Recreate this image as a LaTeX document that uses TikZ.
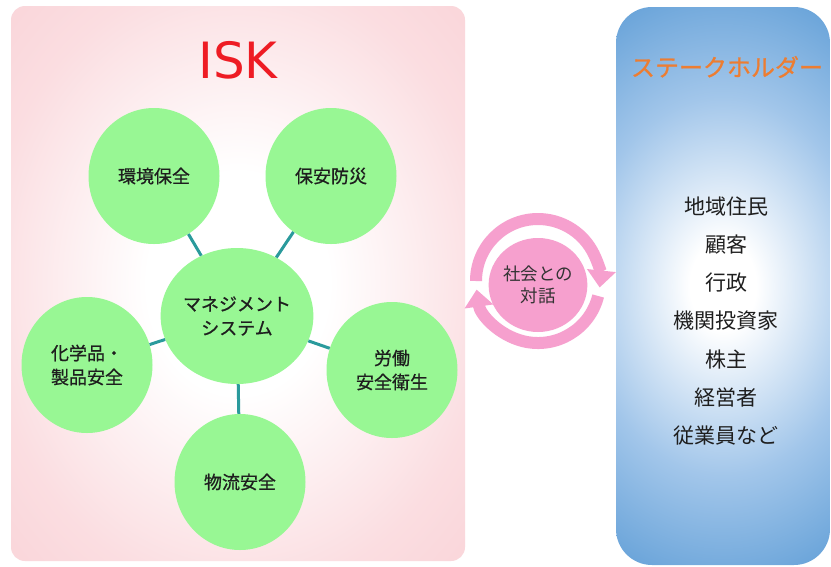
\documentclass[tikz,border=0pt]{standalone}
\usepackage{fontspec}
\setmainfont{DejaVu Sans}
\newfontfamily\jp{Noto Sans CJK JP}
\newfontfamily\jpb[FakeBold=0.8]{Noto Sans CJK JP}
\newfontfamily\iskfont{DejaVu Sans}
\usetikzlibrary{shapes.geometric,arrows.meta}
\definecolor{pinkedge}{HTML}{F9CFD4}
\definecolor{blueedge}{HTML}{5B9BD5}
\definecolor{bluemid}{HTML}{A2C6EA}
\definecolor{circgreen}{HTML}{98F794}
\definecolor{linkteal}{HTML}{2A9A9C}
\definecolor{ringpink}{HTML}{F6A0CE}
\definecolor{iskred}{HTML}{EE1C24}
\definecolor{shorange}{HTML}{ED7D31}
\definecolor{txtdark}{HTML}{1E1E1E}
\pgfdeclareradialshading{pinkrad}{\pgfpoint{0bp}{0bp}}{color(0bp)=(white); color(10bp)=(white); color(28bp)=(pinkedge!70!white); color(42bp)=(pinkedge); color(100bp)=(pinkedge)}
\pgfdeclareradialshading{bluerad}{\pgfpoint{0bp}{0bp}}{color(0bp)=(white); color(4bp)=(white); color(17bp)=(bluemid); color(30bp)=(blueedge); color(100bp)=(blueedge)}
\tikzset{
  topic/.style={ellipse, fill=circgreen, minimum width=131pt, minimum height=136pt, inner sep=0pt, align=center, text=txtdark, font=\jpb\fontsize{18}{24}\selectfont},
  link/.style={draw=linkteal, line width=3pt},
  dialog/.style={ellipse, fill=ringpink, minimum width=91pt, minimum height=94pt, inner sep=0pt, align=center, text=black!80, font=\jp\fontsize{17.5}{22}\selectfont},
  ring/.style={draw=ringpink, line width=12pt, -{Triangle[length=17pt,width=28pt]}},
  listtext/.style={align=center, text=txtdark, font=\jp\fontsize{21}{38.3}\selectfont}
}
\begin{document}
\begin{tikzpicture}[x=1pt,y=-1pt]
\useasboundingbox (0,0) rectangle (831,566);
\fill[white] (0,0) rectangle (831,566);
% panels
\shade[shading=pinkrad, rounded corners=14pt] (11,6) rectangle (465,561);
\begin{scope}
  \clip[rounded corners=36pt] (616,7) rectangle (830,565);
  \shade[shading=bluerad] (516,7) rectangle (930,565);
\end{scope}
% titles
\node[font=\iskfont\fontsize{50}{50}\selectfont, text=iskred] (isk) at (238,60) {ISK};
\node[font=\jpb\fontsize{24}{24}\selectfont, text=shorange] (shtitle) at (727,67) {ステークホルダー};
% topic circles
\node[topic] (mgmt) at (237,316) {マネジメント\\システム};
\node[topic] (env) at (154,176) {環境保全};
\node[topic] (safe) at (331,176) {保安防災};
\node[topic] (chem) at (87,365) {化学品・\\製品安全};
\node[topic] (labor) at (392,370) {労働\\安全衛生};
\node[topic] (logi) at (240,482) {物流安全};
\draw[link] (mgmt) -- (env);
\draw[link] (mgmt) -- (safe);
\draw[link] (mgmt) -- (chem);
\draw[link] (mgmt) -- (labor);
\draw[link] (mgmt) -- (logi);
% dialogue
\coordinate (ringc) at (538,281);
\node[dialog] (talk) at (538,285) {社会との\\対話};
\draw[ring] (ringc) ++(-180:62) arc[start angle=-180, end angle=6, radius=62];
\draw[ring] (ringc) ++(14:62) arc[start angle=14, end angle=172, radius=62];
% stakeholders
\node[listtext] (stake) at (726,321) {地域住民\\顧客\\行政\\機関投資家\\株主\\経営者\\従業員など};
\end{tikzpicture}
\end{document}
